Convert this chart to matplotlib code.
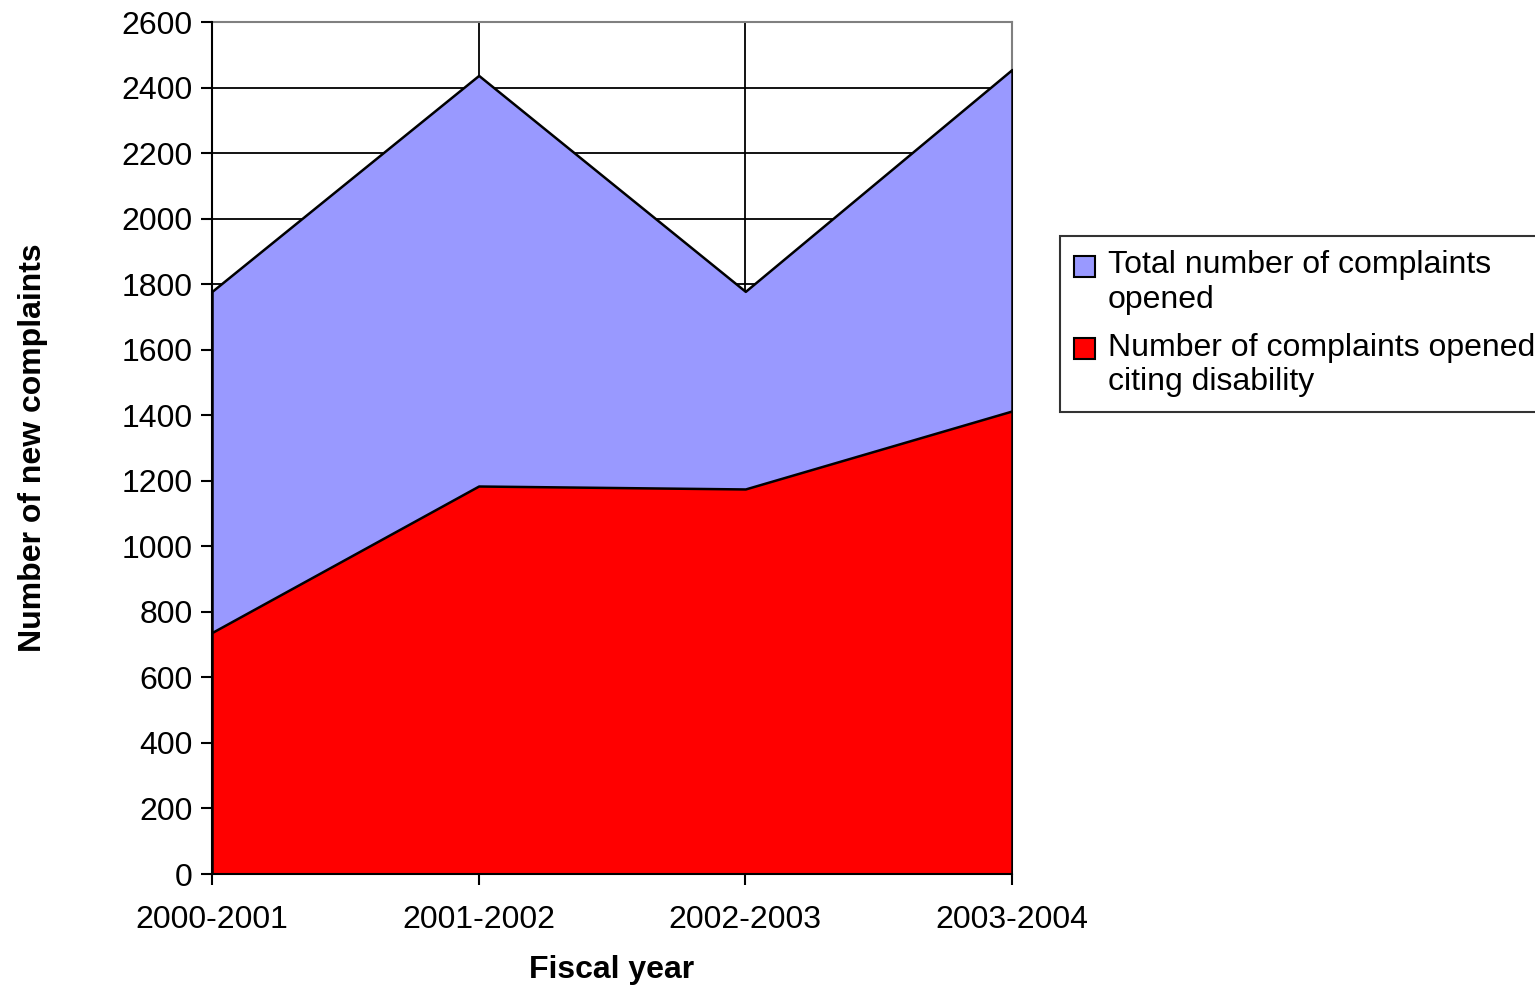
import matplotlib.pyplot as plt
import numpy as np
from matplotlib.patches import Rectangle, Patch
from matplotlib.legend_handler import HandlerPatch

plt.rcParams['font.family'] = ['Liberation Sans', 'DejaVu Sans']

years = ['2000-2001', '2001-2002', '2002-2003', '2003-2004']
total_opened = [1778, 2437, 1778, 2455]
disability_opened = [737, 1184, 1175, 1413]

total_color = '#9999FF'
disab_color = '#FF0000'
total_label = 'Total number of complaints\nopened'
disab_label = 'Number of complaints opened\nciting disability'

x = np.arange(len(years))

fig = plt.figure(figsize=(15.35, 9.9), dpi=100)
ax = fig.add_axes([212 / 1535, 116 / 990, 800 / 1535, 852 / 990])

# stacked-looking area chart: total behind, disability in front
ax.fill_between(x, 0, total_opened, facecolor=total_color, edgecolor='black',
                linewidth=1.8, zorder=3)
ax.fill_between(x, 0, disability_opened, facecolor=disab_color, edgecolor='black',
                linewidth=1.8, zorder=4)

ax.set_xlim(0, 3)
ax.set_ylim(0, 2600)
ax.set_yticks(np.arange(0, 2601, 200))
ax.set_xticks(x)
ax.set_xticklabels(years)

ax.grid(True, color='black', linewidth=1.3, zorder=1)
ax.set_axisbelow(True)
ax.tick_params(axis='both', labelsize=23, direction='out', length=8,
               width=1.5, color='black')
ax.tick_params(axis='x', pad=14)
ax.tick_params(axis='y', pad=6)

for side in ['left', 'bottom']:
    ax.spines[side].set_color('black')
    ax.spines[side].set_linewidth(1.5)
    ax.spines[side].set_zorder(5)
for side in ['top', 'right']:
    ax.spines[side].set_color('#808080')
    ax.spines[side].set_linewidth(1.5)

ax.set_xlabel('Fiscal year', fontsize=23, fontweight='bold', labelpad=15)
ax.set_ylabel('Number of new complaints', fontsize=23, fontweight='bold',
              labelpad=53)


# legend swatch sits level with the first line of a two-line label
def top_square(legend, orig_handle, xdescent, ydescent, width, height, fontsize):
    return Rectangle((-xdescent, -ydescent + 0.52 * fontsize), width, height)


handles = [Patch(facecolor=total_color, edgecolor='black', linewidth=1.5),
           Patch(facecolor=disab_color, edgecolor='black', linewidth=1.5)]
handler = HandlerPatch(patch_func=top_square)
leg = fig.legend(handles, [total_label, disab_label],
                 loc='upper left', bbox_to_anchor=(1060 / 1535, 754 / 990),
                 fontsize=23, frameon=True, fancybox=False, handlelength=0.65,
                 handleheight=0.65, handletextpad=0.4, borderpad=0.45,
                 labelspacing=0.56, borderaxespad=0,
                 handler_map={Patch: handler})
leg.get_frame().set_edgecolor('black')
leg.get_frame().set_linewidth(1.5)

plt.savefig('out.png', dpi=100)
